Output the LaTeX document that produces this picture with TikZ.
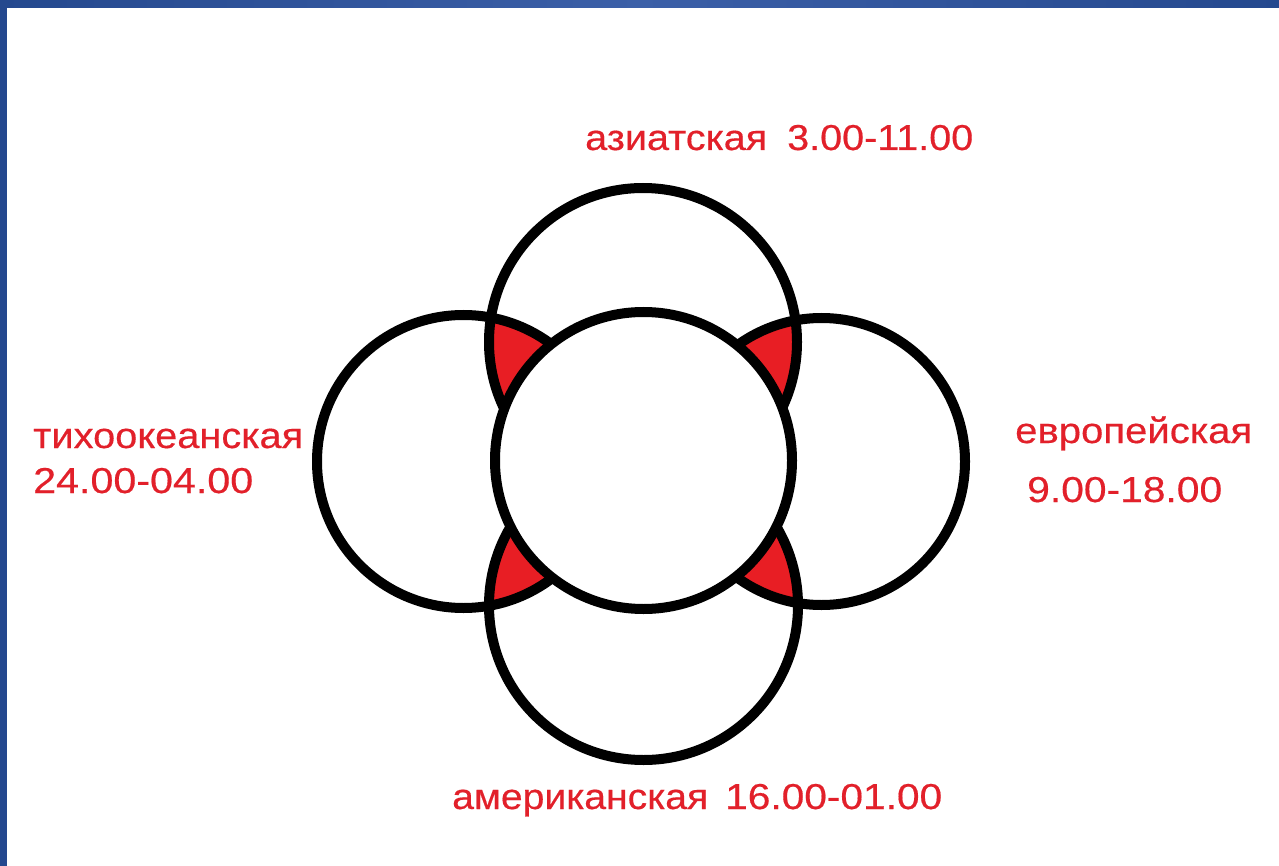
\documentclass[tikz,border=0pt]{standalone}
\usepackage{fontspec}
\setmainfont{Liberation Sans}
\newfontfamily\lblfont{Liberation Sans}[FakeBold=0.4]
\usepackage{graphicx}
\definecolor{lab}{RGB}{226,32,42}
\definecolor{zone}{RGB}{232,30,36}
\definecolor{bluea}{RGB}{36,72,142}
\definecolor{blueb}{RGB}{60,96,168}
\newcommand{\fitw}[2]{\resizebox{#1pt}{\height}{#2}}
\tikzset{
  lbl/.style={anchor=base west, inner sep=0pt, text=lab, font=\lblfont\fontsize{36}{42}\selectfont},
  ring/.style={draw=black, line width=10pt},
}
\begin{document}
\begin{tikzpicture}[x=1pt,y=-1pt]
\useasboundingbox (0,0) rectangle (1279,866);
\fill[white] (0,0) rectangle (1279,866);
\shade[left color=bluea, right color=bluea, middle color=blueb] (0,0) rectangle (1279,8);
\fill[bluea] (0,0) rectangle (7,866);

\coordinate (asia) at (643,342);
\coordinate (pac) at (463.5,461.5);
\coordinate (eur) at (821.5,461.5);
\coordinate (ame) at (643.5,605.5);
\coordinate (mid) at (643.5,460.5);

% red overlaps
\begin{scope}
  \clip (asia) circle[radius=154pt];
  \fill[zone] (pac) circle[radius=146.5pt];
  \fill[zone] (eur) circle[radius=143.5pt];
\end{scope}
\begin{scope}
  \clip (ame) circle[radius=154.5pt];
  \fill[zone] (pac) circle[radius=146.5pt];
  \fill[zone] (eur) circle[radius=143.5pt];
\end{scope}

\draw[ring] (asia) circle[radius=154pt];
\draw[ring] (pac) circle[radius=146.5pt];
\draw[ring] (eur) circle[radius=143.5pt];
\draw[ring] (ame) circle[radius=154.5pt];
\draw[ring, fill=white] (mid) circle[radius=148.5pt];

\node[lbl] (asiaT) at (585,150) {\fitw{182}{азиатская}};
\node[lbl] (asiaH) at (787,150) {\fitw{186}{3.00-11.00}};
\node[lbl] (pacT) at (33,448) {\fitw{270}{тихоокеанская}};
\node[lbl] (pacH) at (33,493) {\fitw{220}{24.00-04.00}};
\node[lbl] (eurT) at (1015,443) {\fitw{237}{европейская}};
\node[lbl] (eurH) at (1027,502) {\fitw{195}{9.00-18.00}};
\node[lbl] (ameT) at (452,809) {\fitw{256}{американская}};
\node[lbl] (ameH) at (725,809) {\fitw{217}{16.00-01.00}};
\end{tikzpicture}
\end{document}
